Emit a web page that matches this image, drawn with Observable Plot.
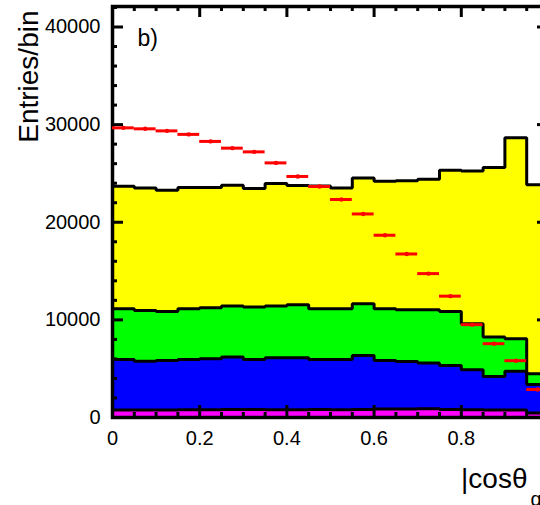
<!DOCTYPE html>
<html><head><meta charset="utf-8">
<script src="https://cdn.jsdelivr.net/npm/d3@7"></script>
<script src="https://cdn.jsdelivr.net/npm/@observablehq/plot@0.6"></script>
<style>
html,body{margin:0;padding:0;background:#fff;overflow:hidden;width:540px;height:505px;}
#chart svg{max-width:none !important;display:block;}
</style></head><body><div id="chart"></div>
<script>
// Bins of |cos theta_q|
const binLo = [0,0.05,0.1,0.15,0.2,0.25,0.3,0.35,0.4,0.45,0.5,0.55,0.6,0.65,0.7,0.75,0.8,0.85,0.9,0.95];
const binHi = [0.05,0.1,0.15,0.2,0.25,0.3,0.35,0.4,0.45,0.5,0.55,0.6,0.65,0.7,0.75,0.8,0.85,0.9,0.95,1.0];

// Stacked components (bottom to top)
const magenta = [780,780,780,800,800,820,820,800,800,820,800,820,880,880,900,820,800,780,760,450];
const blue    = [5170,4990,5070,5150,5220,5370,5130,5320,5320,5130,5150,5540,4970,4860,4670,4510,4090,3430,3990,2940];
const green   = [5200,5200,5020,5200,5230,5230,5360,5300,5440,5200,5200,5300,5300,5310,5480,5540,4720,4030,3320,1090];
const yellow  = [12540,12550,12410,12410,12310,12380,12150,12550,12200,12570,12370,12880,13060,13190,13360,14460,15650,17370,20580,19350];

// Data points (red)
const dataVals = [29670,29570,29360,29000,28280,27590,27210,26080,24690,23660,22330,20850,18670,16750,14740,12430,9510,7560,5820,2870];

// Axis ticks
const xLabelTicks = [0,0.2,0.4,0.6,0.8];
const xMajorTicks = [0.2,0.4,0.6,0.8];
const xMinorTicks = [0.05,0.1,0.15,0.25,0.3,0.35,0.45,0.5,0.55,0.65,0.7,0.75,0.85,0.9,0.95];
const yMajorTicks = [0,10000,20000,30000,40000];
const yMinorTicks = [2000,4000,6000,8000,12000,14000,16000,18000,22000,24000,26000,28000,32000,34000,36000,38000,42000];

const W = 560, H = 505, mL = 112, mR = 12, mT = 6, mB = 88;
const pw = W - mL - mR, ph = H - mT - mB;

const layers = [
  {vals: magenta, color: "#ff00ff"},
  {vals: blue, color: "#0000ff"},
  {vals: green, color: "#00ff00"},
  {vals: yellow, color: "#ffff00"}
];
let base = binLo.map(() => 0);
const fillMarks = [], lineMarks = [];
for (const L of layers) {
  const rows = binLo.map((x, i) => ({x1: x, x2: binHi[i], y1: base[i], y2: base[i] + L.vals[i]}));
  base = rows.map(r => r.y2);
  fillMarks.push(Plot.rectY(rows, {x1: "x1", x2: "x2", y1: "y1", y2: "y2", fill: L.color, shapeRendering: "crispEdges"}));
  const pts = rows.map(r => ({x: r.x1, y: r.y2}));
  pts.push({x: binHi[binHi.length - 1], y: rows[rows.length - 1].y2});
  lineMarks.push(Plot.line(pts, {x: "x", y: "y", curve: "step-after", stroke: "black", strokeWidth: 3, strokeLinejoin: "miter"}));
}
const pts = binLo.map((x, i) => ({x1: x, x2: binHi[i], xc: (x + binHi[i]) / 2, y: dataVals[i]}));

const tickStyle = {stroke: "black", strokeWidth: 3};
const chart = Plot.plot({
  width: W, height: H,
  marginLeft: mL, marginRight: mR, marginTop: mT, marginBottom: mB,
  x: {domain: [0, 1]},
  y: {domain: [0, 42100]},
  style: {fontFamily: "'Liberation Sans', Arial, Helvetica, sans-serif", color: "black", background: "white", maxWidth: "none", overflow: "hidden"},
  marks: [
    ...fillMarks,
    ...lineMarks,
    // left & right ticks
    Plot.tickY(yMajorTicks, {y: d => d, insetRight: pw - 11, ...tickStyle}),
    Plot.tickY(yMinorTicks, {y: d => d, insetRight: pw - 5, ...tickStyle}),
    Plot.tickY(yMajorTicks, {y: d => d, insetLeft: pw - 11, ...tickStyle}),
    Plot.tickY(yMinorTicks, {y: d => d, insetLeft: pw - 5, ...tickStyle}),
    // top & bottom ticks
    Plot.tickX(xMajorTicks, {x: d => d, insetBottom: ph - 11, ...tickStyle}),
    Plot.tickX(xMinorTicks, {x: d => d, insetBottom: ph - 5, ...tickStyle}),
    Plot.tickX(xMajorTicks, {x: d => d, insetTop: ph - 12, ...tickStyle}),
    Plot.tickX(xMinorTicks, {x: d => d, insetTop: ph - 5, ...tickStyle}),
    Plot.frame({stroke: "black", strokeWidth: 3.5}),
    // data points
    Plot.ruleY(pts, {x1: "x1", x2: "x2", y: "y", stroke: "#ff0000", strokeWidth: 3}),
    Plot.dot(pts, {x: "xc", y: "y", r: 2.2, fill: "#ff0000"}),
    // axes labels
    Plot.axisY(yMajorTicks, {tickSize: 0, tickPadding: 12, fontSize: 20, tickFormat: d => String(d), label: null}),
    Plot.axisX(xLabelTicks, {tickSize: 0, tickPadding: 13, fontSize: 20, tickFormat: d => String(d), label: null}),
    Plot.text(["Entries/bin"], {text: d => d, frameAnchor: "top-left", rotate: -90, textAnchor: "end", lineAnchor: "bottom", dx: -75, dy: 4, fontSize: 28}),
    Plot.text(["b)"], {text: d => d, frameAnchor: "top-left", textAnchor: "start", lineAnchor: "bottom", dx: 25, dy: 39, fontSize: 23}),
    Plot.text(["|cosθ"], {text: d => d, frameAnchor: "bottom-right", textAnchor: "end", lineAnchor: "bottom", dx: -21, dy: 70, fontSize: 28}),
    Plot.text(["q"], {text: d => d, frameAnchor: "bottom-right", textAnchor: "start", lineAnchor: "bottom", dx: -18, dy: 88, fontSize: 20})
  ]
});
document.getElementById("chart").appendChild(chart);
</script></body></html>
